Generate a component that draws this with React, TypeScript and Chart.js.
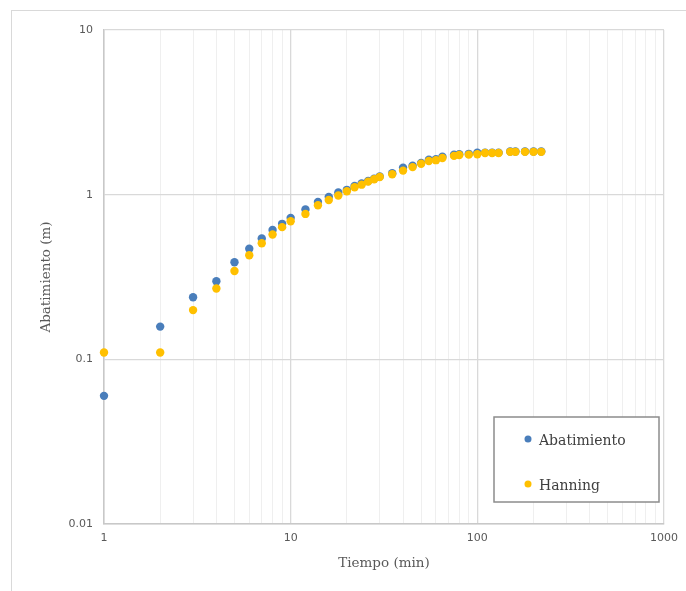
import React, { useEffect, useRef } from "react";
import { Chart, registerables } from "chart.js";

Chart.register(...registerables);

// ---- Data ----
const timeMin = [1, 2, 3, 4, 5, 6, 7, 8, 9, 10, 12, 14, 16, 18, 20, 22, 24, 26, 28, 30, 35, 40, 45, 50, 55, 60, 65, 75, 80, 90, 100, 110, 120, 130, 150, 160, 180, 200, 220];
const abatimiento = [0.060, 0.158, 0.238, 0.298, 0.389, 0.469, 0.542, 0.611, 0.665, 0.723, 0.813, 0.904, 0.970, 1.03, 1.07, 1.13, 1.17, 1.21, 1.25, 1.29, 1.35, 1.46, 1.50, 1.56, 1.63, 1.64, 1.70, 1.75, 1.76, 1.77, 1.80, 1.80, 1.80, 1.80, 1.83, 1.83, 1.83, 1.83, 1.83];
const hanning = [0.110, 0.110, 0.199, 0.269, 0.344, 0.429, 0.507, 0.573, 0.635, 0.690, 0.764, 0.863, 0.929, 0.989, 1.05, 1.11, 1.15, 1.20, 1.24, 1.28, 1.33, 1.40, 1.47, 1.54, 1.60, 1.62, 1.67, 1.72, 1.74, 1.75, 1.76, 1.79, 1.79, 1.79, 1.82, 1.82, 1.82, 1.82, 1.82];

const seriesNames = ["Abatimiento", "Hanning"];
const seriesColors = ["#4A7EBB", "#FFC000"];

const xTickLabels = ["1", "10", "100", "1000"];
const yTickLabels = ["0.01", "0.1", "1", "10"];
const xTitle = "Tiempo (min)";
const yTitle = "Abatimiento (m)";

// gridline positions for x (1..9 per decade)
function logGridValues(labels: string[]): number[] {
  const vals: number[] = [];
  const majors = labels.map(Number);
  for (let i = 0; i < majors.length; i++) {
    const m = majors[i];
    if (i === majors.length - 1) {
      vals.push(m);
    } else {
      for (let k = 1; k <= 9; k++) vals.push(+(m * k).toPrecision(6));
    }
  }
  return vals;
}

const isMajorValue = (v: number) => {
  const l = Math.log10(v);
  return Math.abs(l - Math.round(l)) < 1e-9;
};

const legendBoxPlugin = {
  id: "legendBox",
  afterDraw(chart: any) {
    const { ctx, chartArea } = chart;
    const right = chartArea.right - 5;
    const bottom = chartArea.bottom - 22;
    const w = 165;
    const h = 85;
    const left = right - w;
    const top = bottom - h;
    ctx.save();
    ctx.fillStyle = "#ffffff";
    ctx.fillRect(left, top, w, h);
    ctx.strokeStyle = "#8c8c8c";
    ctx.lineWidth = 1.5;
    ctx.strokeRect(left, top, w, h);
    ctx.font = "14px 'DejaVu Serif'";
    ctx.textBaseline = "middle";
    ctx.textAlign = "left";
    chart.data.datasets.forEach((ds: any, i: number) => {
      const cy = top + 22 + i * 45;
      ctx.beginPath();
      ctx.fillStyle = ds.backgroundColor;
      ctx.arc(left + 34, cy, 3.5, 0, Math.PI * 2);
      ctx.fill();
      ctx.fillStyle = "#404040";
      ctx.fillText(ds.label, left + 45, cy + 2);
    });
    ctx.restore();
  },
};

export default function App() {
  const canvasRef = useRef<HTMLCanvasElement | null>(null);

  useEffect(() => {
    if (!canvasRef.current) return;
    const xGrid = logGridValues(xTickLabels);
    const yGrid = yTickLabels.map(Number);
    const seriesValues = [abatimiento, hanning];

    const chart = new Chart(canvasRef.current, {
      type: "scatter",
      data: {
        datasets: seriesNames.map((name, i) => ({
          label: name,
          data: timeMin.map((t, j) => ({ x: t, y: seriesValues[i][j] })),
          backgroundColor: seriesColors[i],
          borderColor: seriesColors[i],
          pointRadius: 4.2,
          pointBorderWidth: 0,
          pointHoverRadius: 4.2,
          clip: false,
          order: i === 0 ? 2 : 1,
        })),
      },
      plugins: [legendBoxPlugin],
      options: {
        animation: false,
        responsive: false,
        devicePixelRatio: 1,
        events: [],
        layout: { padding: { left: 38, right: 22, top: 30, bottom: 19 } },
        plugins: {
          legend: { display: false },
          tooltip: { enabled: false },
        },
        scales: {
          x: {
            type: "logarithmic",
            min: 1,
            max: 1000,
            afterBuildTicks: (scale: any) => {
              scale.ticks = xGrid.map((v) => ({ value: v, major: isMajorValue(v) }));
            },
            afterFit: (scale: any) => {
              scale.height = 48;
            },
            ticks: {
              autoSkip: false,
              maxRotation: 0,
              padding: 8,
              color: "#595959",
              font: { family: "'DejaVu Sans'", size: 11 },
              callback: (value: any) => {
                const s = String(value);
                return xTickLabels.includes(s) ? s : "";
              },
            },
            grid: {
              drawTicks: false,
              color: (c: any) => (c.tick && isMajorValue(c.tick.value) ? "#d9d9d9" : "#efefef"),
              lineWidth: (c: any) => (c.tick && isMajorValue(c.tick.value) ? 1.3 : 1),
            },
            border: { color: "#c8c8c8", width: 1.5 },
            title: {
              display: true,
              text: xTitle,
              color: "#595959",
              font: { family: "'DejaVu Serif'", size: 13.5 },
              padding: 0,
            },
          },
          y: {
            type: "logarithmic",
            min: 0.01,
            max: 10,
            afterBuildTicks: (scale: any) => {
              scale.ticks = yGrid.map((v) => ({ value: v, major: true }));
            },
            afterFit: (scale: any) => {
              scale.width = 66;
            },
            ticks: {
              autoSkip: false,
              padding: 11,
              color: "#595959",
              font: { family: "'DejaVu Sans'", size: 11 },
              callback: (value: any) => {
                const idx = yGrid.findIndex((v) => Math.abs(v - Number(value)) < 1e-12);
                return idx >= 0 ? yTickLabels[idx] : "";
              },
            },
            grid: {
              drawTicks: false,
              color: "#d9d9d9",
              lineWidth: 1.3,
            },
            border: { color: "#c8c8c8", width: 1.5 },
            title: {
              display: true,
              text: yTitle,
              color: "#595959",
              font: { family: "'DejaVu Serif'", size: 13.5 },
              padding: 0,
            },
          },
        },
      } as any,
    });
    return () => chart.destroy();
  }, []);

  return (
    <div style={{ position: "fixed", left: 0, top: 0, width: 686, height: 591, background: "#ffffff" }}>
      <div
        style={{
          position: "absolute",
          left: 11,
          top: 10,
          right: 0,
          bottom: 0,
          borderTop: "1px solid #d9d9d9",
          borderLeft: "1px solid #d9d9d9",
        }}
      />
      <canvas ref={canvasRef} width={686} height={591} style={{ position: "absolute", left: 0, top: 0 }} />
    </div>
  );
}
